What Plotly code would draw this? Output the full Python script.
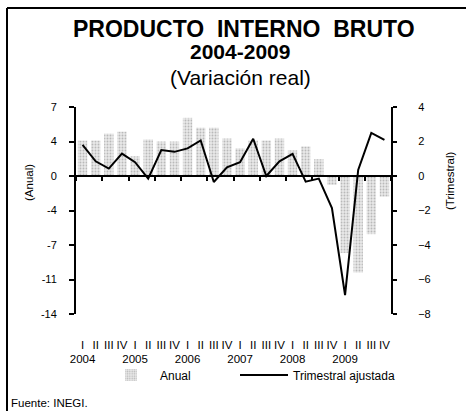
import plotly.graph_objects as go

# ---------------- data ----------------
years = ["2004", "2005", "2006", "2007", "2008", "2009"]
quarters = ["I", "II", "III", "IV"]
categories = [f"{y}-{q}" for y in years for q in quarters]

anual = [3.6, 3.6, 4.3, 4.5,
         2.0, 3.7, 3.5, 3.5,
         5.9, 4.9, 4.9, 3.8,
         2.8, 3.6, 3.6, 3.8,
         2.6, 3.0, 1.7, -0.9,
         -7.8, -9.8, -5.9, -2.1]

trimestral = [1.8, 0.85, 0.43, 1.3,
              0.8, -0.15, 1.5, 1.4,
              1.6, 2.06, -0.35, 0.5,
              0.8, 2.16, 0.0, 0.85,
              1.28, -0.33, -0.15, -1.86,
              -6.9, 0.35, 2.5, 2.1]

left_tickvals = [7, 3.5, 0, -3.5, -7, -10.5, -14]
left_ticktext = ["7", "4", "0", "-4", "-7", "-11", "-14"]
right_tickvals = [4, 2, 0, -2, -4, -6, -8]

x_ticktext = []
for y in years:
    for q in quarters:
        x_ticktext.append(f"{q}<br>{y}" if q == "I" else q)

# ---------------- layout geometry ----------------
W, H = 466, 411
L, R, T, B = 76, 75, 107, 97
PW, PH = W - L - R, H - T - B


def px_x(px):
    return (px - L) / PW


def px_y(py):
    return (H - B - py) / PH


FONT = "Liberation Sans, Arial, sans-serif"

fig = go.Figure()

fig.add_trace(go.Bar(
    x=categories, y=anual, name="Anual",
    xaxis="x", yaxis="y", legend="legend",
    marker=dict(color="#e2e2e2", line=dict(width=0),
                pattern=dict(shape=".", fgcolor="#8a8a8a", bgcolor="#e8e8e8",
                             size=3, solidity=0.3)),
))

fig.add_trace(go.Scatter(
    x=categories, y=trimestral, name="Trimestral ajustada",
    xaxis="x2", yaxis="y2", mode="lines", legend="legend2",
    line=dict(color="black", width=2),
))

legend_common = dict(orientation="h", xanchor="left", yanchor="middle",
                     y=px_y(375), font=dict(size=12), itemwidth=48,
                     bgcolor="rgba(0,0,0,0)")

fig.update_layout(
    width=W, height=H,
    margin=dict(l=L, r=R, t=T, b=B, pad=0),
    paper_bgcolor="white", plot_bgcolor="white",
    font=dict(family=FONT, size=11, color="black"),
    bargap=0.28,
    showlegend=True,
    legend=dict(x=px_x(102), **legend_common),
    legend2=dict(x=px_x(235), **legend_common),
    xaxis=dict(type="category", categoryorder="array", categoryarray=categories,
               range=[-0.5, len(categories) - 0.5],
               tickmode="array", tickvals=categories, ticktext=x_ticktext,
               showline=False, ticks="", showgrid=False, zeroline=False,
               ticklabelstandoff=22, tickfont=dict(size=11.5), tickangle=0,
               anchor="y"),
    xaxis2=dict(type="category", categoryorder="array", categoryarray=categories,
                range=[-0.5, len(categories) - 0.5],
                overlaying="x", anchor="free", position=14 / 21, side="bottom",
                showline=True, linecolor="black", linewidth=2,
                ticks="outside", tickson="boundaries", ticklen=4,
                tickcolor="black", tickwidth=1.5,
                showticklabels=False, showgrid=False, zeroline=False),
    yaxis=dict(range=[-14, 7], tickmode="array", tickvals=left_tickvals,
               ticktext=left_ticktext, showline=True, linecolor="black",
               linewidth=2, ticks="outside", ticklen=5, tickcolor="black",
               tickwidth=1.5, showgrid=False, zeroline=False,
               ticklabelstandoff=10),
    yaxis2=dict(range=[-8, 4], tickmode="array", tickvals=right_tickvals,
                overlaying="y", side="right", anchor="x",
                showline=True, linecolor="black", linewidth=2,
                ticks="outside", ticklen=4, tickcolor="black", tickwidth=1.5,
                showgrid=False, zeroline=False, ticklabelstandoff=19),
)

annotations = [
    dict(text="<b>PRODUCTO  INTERNO  BRUTO</b>", x=px_x(244), y=px_y(29),
         font=dict(size=23)),
    dict(text="<b>2004-2009</b>", x=px_x(240), y=px_y(52), font=dict(size=21)),
    dict(text="(Variación real)", x=px_x(240), y=px_y(77), font=dict(size=21)),
    dict(text="(Anual)", x=px_x(29), y=px_y(183), textangle=-90,
         font=dict(size=11.5)),
    dict(text="(Trimestral)", x=px_x(450), y=px_y(181), textangle=-90,
         font=dict(size=11.5)),
    dict(text="Fuente: INEGI.", x=px_x(9), y=px_y(403), xanchor="left",
         font=dict(size=11.5)),
]
for a in annotations:
    a.setdefault("xanchor", "center")
    fig.add_annotation(xref="paper", yref="paper", showarrow=False,
                       yanchor="middle", **a)

# frame (left and top edges)
fig.add_shape(type="line", xref="paper", yref="paper",
              x0=px_x(7), x1=px_x(7), y0=px_y(8), y1=px_y(H),
              line=dict(color="black", width=2))
fig.add_shape(type="line", xref="paper", yref="paper",
              x0=px_x(7), x1=px_x(W), y0=px_y(8), y1=px_y(8),
              line=dict(color="black", width=2))

fig.write_html("out.html",
               config={"displayModeBar": False},
               post_script="document.body.style.margin='0';"
                           "document.body.style.padding='0';")
